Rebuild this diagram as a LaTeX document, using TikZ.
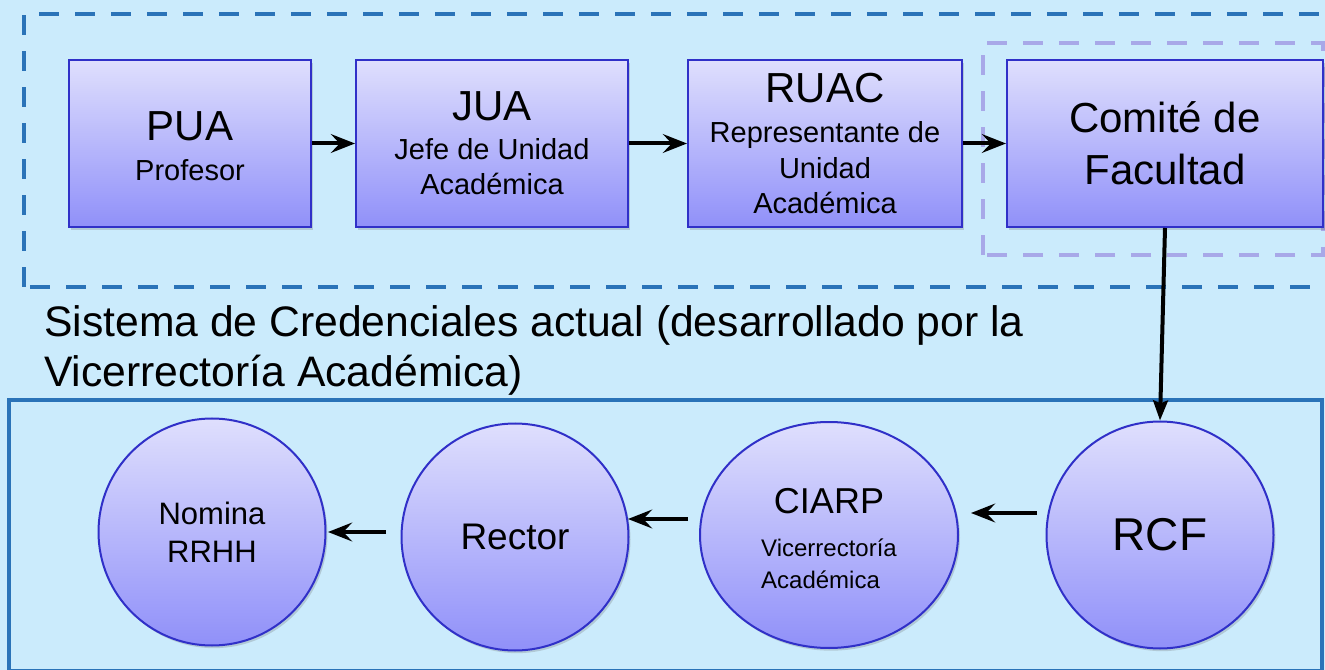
\documentclass[tikz,border=0pt]{standalone}
\usepackage{fontspec}
\setmainfont{Liberation Sans}
\usetikzlibrary{shapes.geometric,arrows.meta,shadows}
\definecolor{bgc}{RGB}{203,235,252}
\definecolor{framec}{RGB}{42,115,184}
\definecolor{purpc}{RGB}{168,168,232}
\definecolor{ntop}{RGB}{223,223,253}
\definecolor{nbot}{RGB}{144,144,249}
\definecolor{nborder}{RGB}{48,48,200}
\newcommand{\fsz}[2]{\fontsize{#1}{#2}\selectfont}
\begin{document}
\begin{tikzpicture}[x=0.75pt,y=-0.75pt,
  nodebase/.style={draw=nborder, line width=1.5pt, top color=ntop, bottom color=nbot,
    inner sep=0pt, align=center, text=black,
    drop shadow={opacity=0.25, shadow xshift=1.5pt, shadow yshift=-2pt, fill=black!60}},
  procbox/.style={nodebase, rectangle, minimum height=125.25pt},
  roundnode/.style={nodebase, circle, minimum size=170.25pt},
  ovalnode/.style={nodebase, ellipse, minimum width=193.5pt, minimum height=169.5pt},
  arr/.style={line width=3pt, -{Stealth[length=18pt,width=14pt,inset=6.5pt]}},
  downarr/.style={line width=3pt, -{Stealth[length=15pt,width=11pt,inset=2pt]}},
  bluedash/.style={draw=framec, line width=3pt, dash pattern=on 15pt off 12pt},
  purpdash/.style={draw=purpc, line width=3pt, dash pattern=on 15pt off 12pt}
]
\useasboundingbox (0,0) rectangle (1325,670);
\fill[bgc] (0,0) rectangle (1325,670);

% frames
\draw[bluedash] (24,287) -- (24,14) -- (1345,14);
\draw[bluedash] (30,287) -- (1345,287);
\draw[purpdash] (983,255) -- (983,43) -- (1323,43) -- (1323,255) -- cycle;
\draw[draw=framec, line width=3.5pt] (9,400) rectangle (1322,671.5);

% top row
\node[procbox, minimum width=181.5pt, font=\fsz{21.75}{30}] (pua) at (190,143.5)
  {{\fsz{31.5}{31.5}\rule{0pt}{26pt}PUA}\\Profesor};
\node[procbox, minimum width=204pt, font=\fsz{21.75}{26.25}] (jua) at (492,143.5)
  {{\fsz{31.5}{31.5}JUA}\\[3pt]Jefe de Unidad\\Académica};
\node[procbox, minimum width=205.5pt, font=\fsz{21.75}{26.5}] (ruac) at (825,143.5)
  {{\fsz{31.5}{31.5}RUAC}\\[3.5pt]Representante de\\Unidad\\Académica};
\node[procbox, minimum width=237pt, font=\fsz{31.5}{39}] (comite) at (1165,143.5)
  {Comité de\\Facultad};

\draw[arr] (pua) -- (jua);
\draw[arr] (jua) -- (ruac);
\draw[arr] (ruac) -- (comite);

% title
\node[anchor=west, align=left, inner sep=0pt, font=\fsz{32}{37.5}] (title) at (44,350)
  {Sistema de Credenciales actual (desarrollado por la\\Vicerrectoría Académica)};

% bottom row
\node[roundnode, font=\fsz{23.25}{28.5}] (nomina) at (212,532) {Nomina\\RRHH};
\node[roundnode, font=\fsz{27.75}{33}] (rector) at (515,537) {Rector};
\node[ovalnode, font=\fsz{18}{24}] (ciarp) at (829,535)
  {{\fsz{27}{27}\rule{0pt}{31.5pt}CIARP}\\[8pt]\begin{tabular}[t]{@{}l@{}}Vicerrectoría\\Académica\end{tabular}};
\node[roundnode, font=\fsz{34.5}{34.5}] (rcf) at (1160,535) {RCF};

\draw[downarr] (comite.south) -- (rcf.north);

\coordinate (t1) at (1037,513);
\coordinate (h1) at (971,513);
\coordinate (t2) at (688,519);
\coordinate (h2) at (628,519);
\coordinate (t3) at (386,532);
\coordinate (h3) at (328,532);
\draw[arr] (t1) -- (h1);
\draw[arr] (t2) -- (h2);
\draw[arr] (t3) -- (h3);
\end{tikzpicture}
\end{document}
